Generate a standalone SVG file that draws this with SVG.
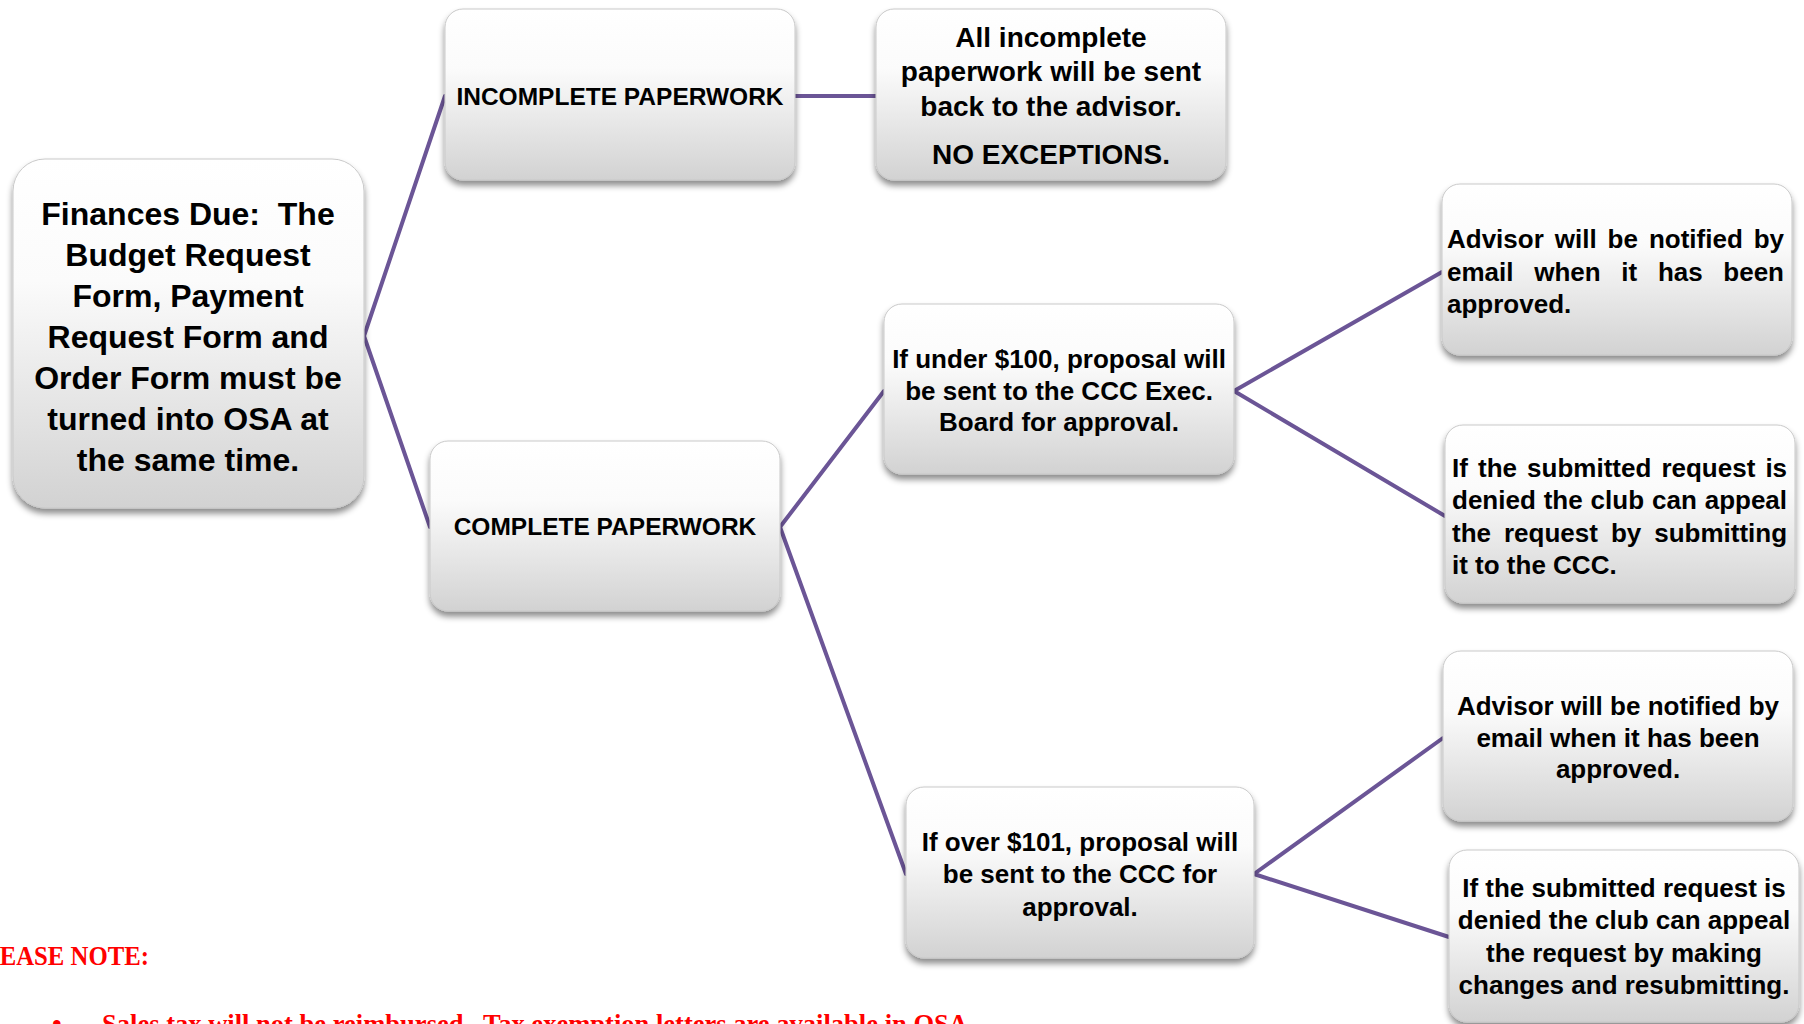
<svg xmlns="http://www.w3.org/2000/svg" width="1804" height="1024" viewBox="0 0 1804 1024">
<defs>
<linearGradient id="boxfill" x1="0" y1="0" x2="0" y2="1">
<stop offset="0" stop-color="#ffffff"/>
<stop offset="0.35" stop-color="#fbfbfb"/>
<stop offset="0.75" stop-color="#e2e2e2"/>
<stop offset="1" stop-color="#d2d2d2"/>
</linearGradient>
<filter id="shadow" x="-10%" y="-10%" width="120%" height="130%">
<feDropShadow dx="0" dy="5" stdDeviation="3" flood-color="#000000" flood-opacity="0.45"/>
</filter>
</defs>
<style>
.box{fill:url(#boxfill);stroke:#c9c9c9;stroke-width:1;filter:url(#shadow)}
.t{font-family:"Liberation Sans",Arial,sans-serif;font-weight:bold;fill:#000000}
.c{text-anchor:middle}
.conn{stroke:#6b5596;stroke-width:4;fill:none;stroke-linecap:round}
.red{font-family:"Liberation Serif","Times New Roman",serif;font-weight:bold;fill:#ff0000;font-size:27.5px}
</style>
<rect width="1804" height="1024" fill="#ffffff"/>

<g id="connectors">
<line class="conn" x1="364" y1="336" x2="445" y2="96"/>
<line class="conn" x1="364" y1="336" x2="430" y2="527"/>
<line class="conn" x1="795" y1="96" x2="876" y2="96"/>
<line class="conn" x1="780" y1="527" x2="884" y2="391"/>
<line class="conn" x1="780" y1="527" x2="906" y2="874"/>
<line class="conn" x1="1234" y1="391" x2="1442" y2="272"/>
<line class="conn" x1="1234" y1="391" x2="1445" y2="516"/>
<line class="conn" x1="1254" y1="874" x2="1443" y2="738"/>
<line class="conn" x1="1254" y1="874" x2="1449" y2="937"/>
</g>

<g id="n-finances">
<rect class="box" x="13" y="159" width="351" height="349" rx="32"/>
<text class="t c" font-size="32" x="188" y="225" style="white-space:pre">Finances Due:  The</text>
<text class="t c" font-size="32" x="188" y="266">Budget Request</text>
<text class="t c" font-size="32" x="188" y="307">Form, Payment</text>
<text class="t c" font-size="32" x="188" y="348">Request Form and</text>
<text class="t c" font-size="32" x="188" y="389">Order Form must be</text>
<text class="t c" font-size="32" x="188" y="430">turned into OSA at</text>
<text class="t c" font-size="32" x="188" y="471">the same time.</text>
</g>

<g id="n-incomplete">
<rect class="box" x="445" y="9" width="350" height="171" rx="18"/>
<text class="t c" font-size="24.5" x="620" y="105">INCOMPLETE PAPERWORK</text>
</g>

<g id="n-sentback">
<rect class="box" x="876" y="9" width="350" height="171" rx="18"/>
<text class="t c" font-size="28" x="1051" y="47">All incomplete</text>
<text class="t c" font-size="28" x="1051" y="81">paperwork will be sent</text>
<text class="t c" font-size="28" x="1051" y="116">back to the advisor.</text>
<text class="t c" font-size="28" x="1051" y="164">NO EXCEPTIONS.</text>
</g>

<g id="n-complete">
<rect class="box" x="430" y="441" width="350" height="170" rx="18"/>
<text class="t c" font-size="24.5" x="605" y="535">COMPLETE PAPERWORK</text>
</g>

<g id="n-under">
<rect class="box" x="884" y="304" width="350" height="170" rx="18"/>
<text class="t c" font-size="26" x="1059" y="368">If under $100, proposal will</text>
<text class="t c" font-size="26" x="1059" y="400">be sent to the CCC Exec.</text>
<text class="t c" font-size="26" x="1059" y="431">Board for approval.</text>
</g>

<g id="n-over">
<rect class="box" x="906" y="787" width="348" height="171" rx="18"/>
<text class="t c" font-size="26" x="1080" y="851">If over $101, proposal will</text>
<text class="t c" font-size="26" x="1080" y="883">be sent to the CCC for</text>
<text class="t c" font-size="26" x="1080" y="916">approval.</text>
</g>

<g id="n-notify1">
<rect class="box" x="1442" y="184" width="350" height="171" rx="18"/>
<text class="t" font-size="26" y="248"><tspan x="1447">Advisor</tspan><tspan x="1554.8">will</tspan><tspan x="1607.6">be</tspan><tspan x="1648.9">notified</tspan><tspan x="1753.7">by</tspan></text>
<text class="t" font-size="26" y="281"><tspan x="1447">email</tspan><tspan x="1534.2">when</tspan><tspan x="1621.3">it</tspan><tspan x="1657.9">has</tspan><tspan x="1723.3">been</tspan></text>
<text class="t" font-size="26" x="1447" y="313">approved.</text>
</g>

<g id="n-appeal1">
<rect class="box" x="1445" y="425" width="350" height="178" rx="18"/>
<text class="t" font-size="26" y="477"><tspan x="1452">If</tspan><tspan x="1478">the</tspan><tspan x="1527.1">submitted</tspan><tspan x="1661.4">request</tspan><tspan x="1765.4">is</tspan></text>
<text class="t" font-size="26" y="509"><tspan x="1452">denied</tspan><tspan x="1543.7">the</tspan><tspan x="1590.6">club</tspan><tspan x="1652">can</tspan><tspan x="1704.7">appeal</tspan></text>
<text class="t" font-size="26" y="542"><tspan x="1452">the</tspan><tspan x="1504">request</tspan><tspan x="1610.9">by</tspan><tspan x="1654.2">submitting</tspan></text>
<text class="t" font-size="26" x="1452" y="574">it to the CCC.</text>
</g>

<g id="n-notify2">
<rect class="box" x="1443" y="651" width="350" height="170" rx="18"/>
<text class="t c" font-size="26" x="1618" y="715">Advisor will be notified by</text>
<text class="t c" font-size="26" x="1618" y="747">email when it has been</text>
<text class="t c" font-size="26" x="1618" y="778">approved.</text>
</g>

<g id="n-appeal2">
<rect class="box" x="1449" y="850" width="350" height="172" rx="18"/>
<text class="t c" font-size="26" x="1624" y="897">If the submitted request is</text>
<text class="t c" font-size="26" x="1624" y="929">denied the club can appeal</text>
<text class="t c" font-size="26" x="1624" y="962">the request by making</text>
<text class="t c" font-size="26" x="1624" y="994">changes and resubmitting.</text>
</g>

<g id="note">
<text class="red" x="-32" y="965" textLength="181" lengthAdjust="spacingAndGlyphs">PLEASE NOTE:</text>
<text class="red" x="52" y="1033">•</text>
<text class="red" x="102" y="1033" textLength="866" lengthAdjust="spacingAndGlyphs" style="white-space:pre">Sales tax will not be reimbursed.  Tax exemption letters are available in OSA</text>
</g>
</svg>
